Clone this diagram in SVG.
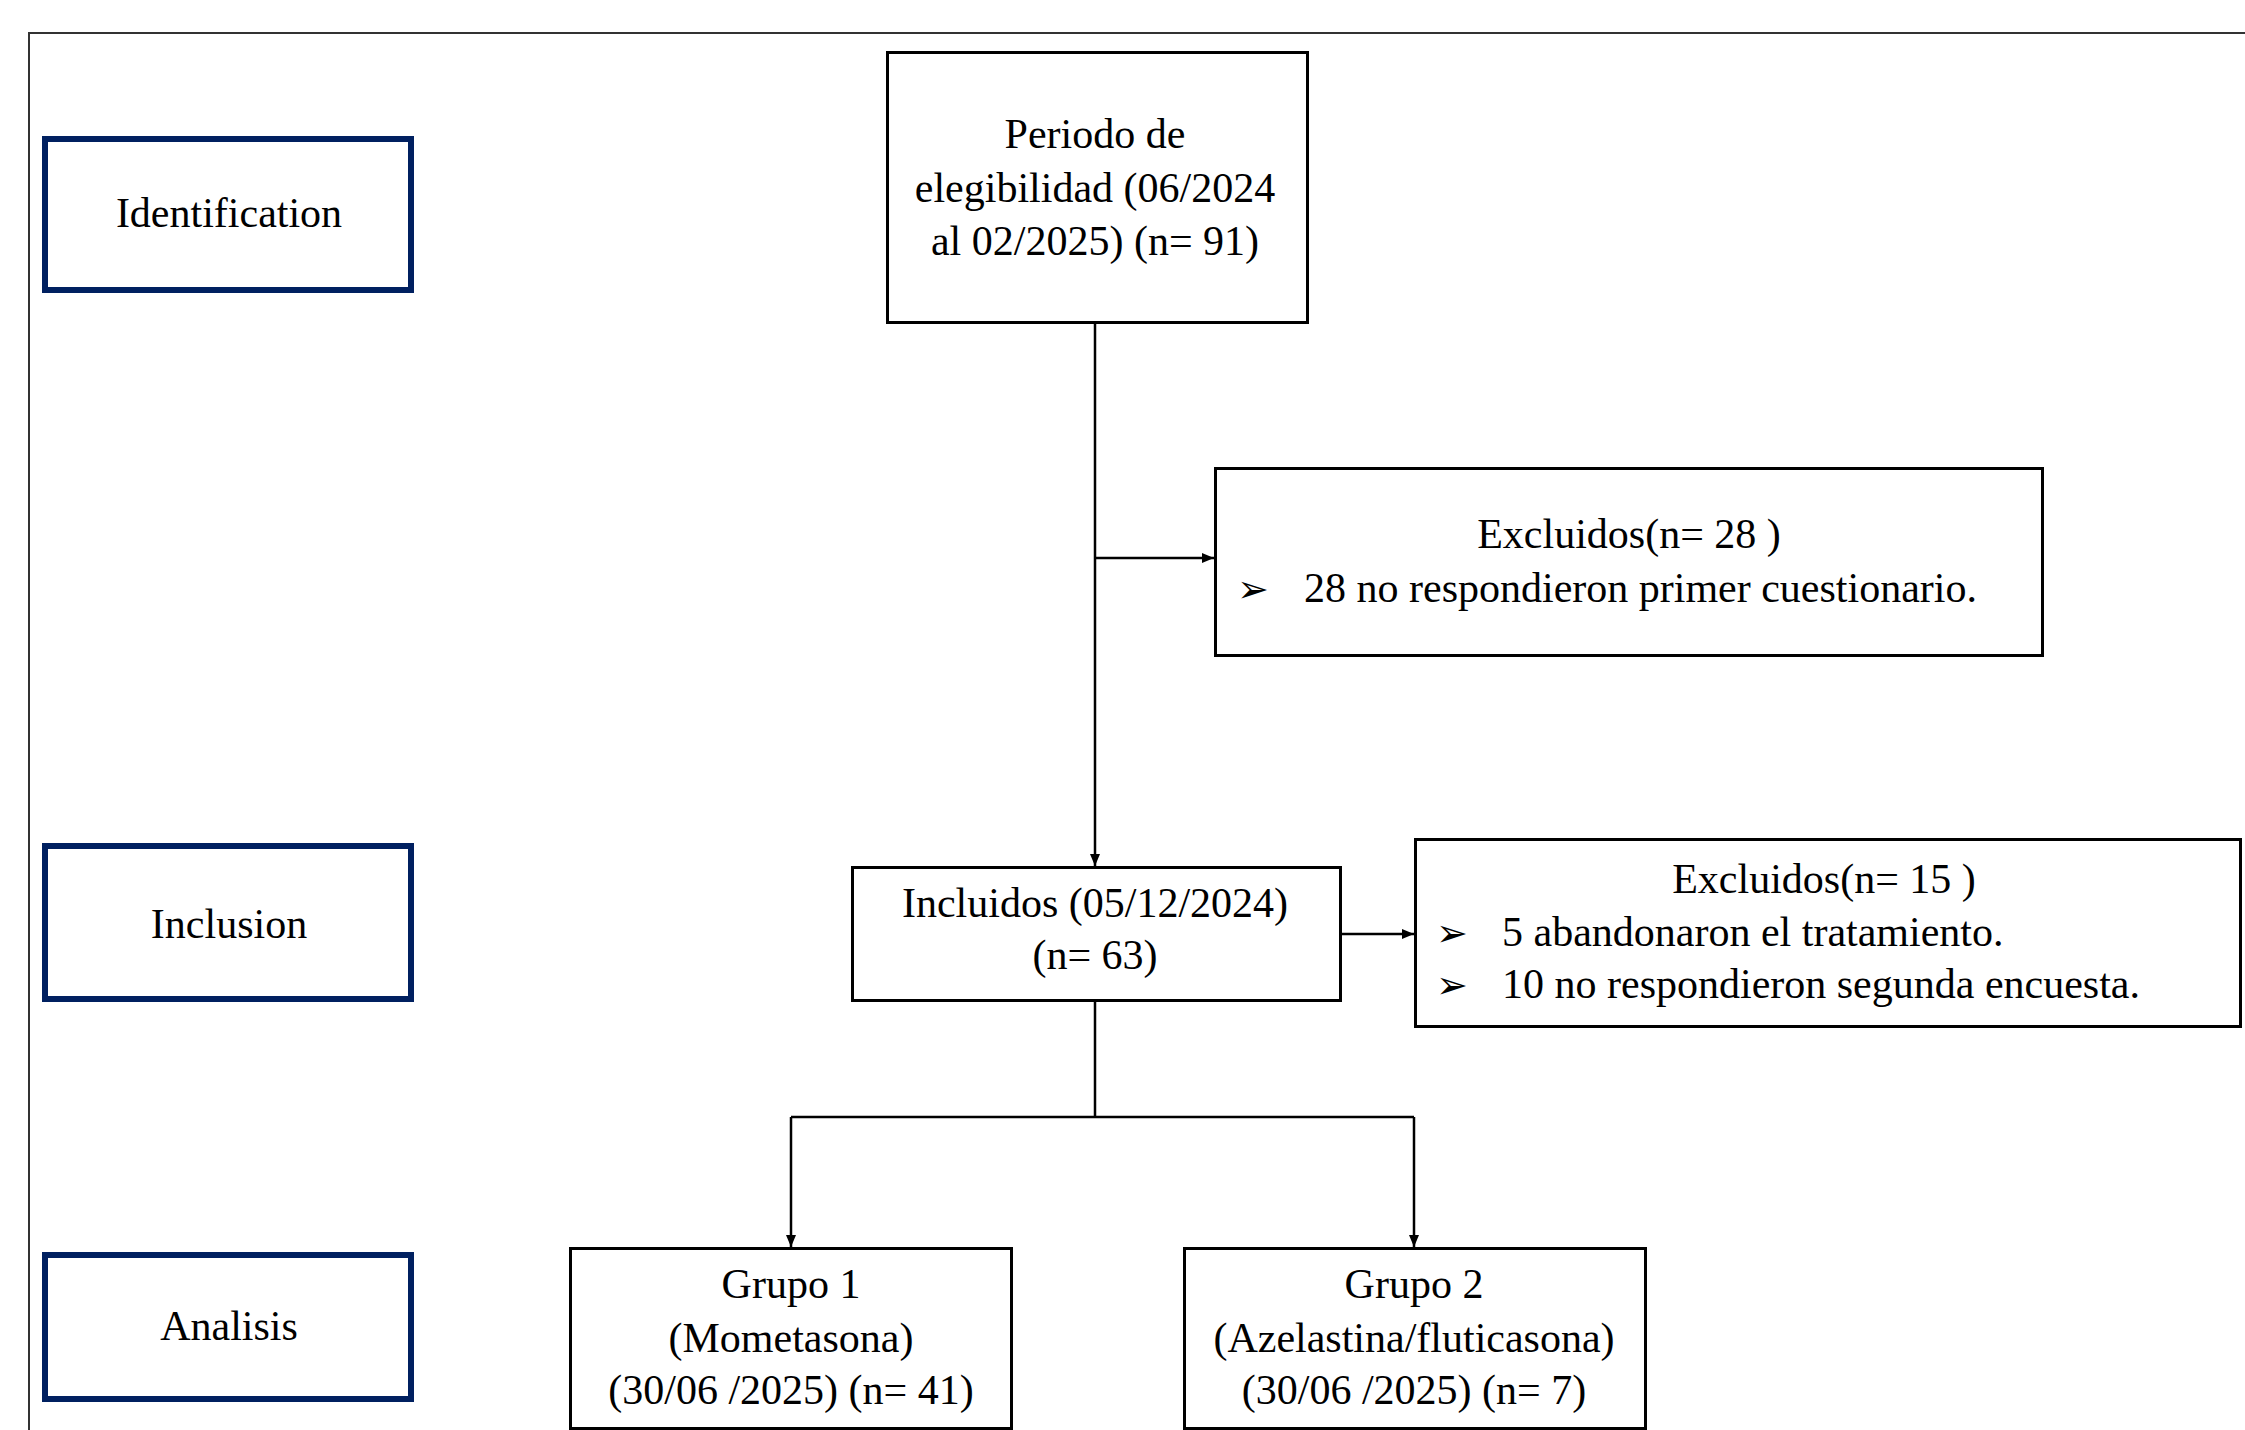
<svg xmlns="http://www.w3.org/2000/svg" width="2245" height="1430" viewBox="0 0 2245 1430">
<style>
.lbl{fill:#fff;stroke:#002060;stroke-width:6}
.box{fill:#fff;stroke:#000;stroke-width:3}
.t{font-family:"Liberation Serif","Times New Roman",serif;font-size:42px;fill:#000}
.c{text-anchor:middle}
.b{font-family:"DejaVu Sans",sans-serif;font-size:38px}
.con{fill:none;stroke:#000;stroke-width:2.5}
.frame{fill:none;stroke:#333;stroke-width:2}
</style>
<defs>
<marker id="ah" markerUnits="userSpaceOnUse" markerWidth="12" markerHeight="10" refX="12" refY="5" orient="auto">
<path d="M0,0 L12,5 L0,10 z" fill="#000"/>
</marker>
</defs>
<rect width="2245" height="1430" fill="#fff"/>
<path class="frame" d="M29,1430 V33 H2245"/>

<g id="identification">
<rect class="lbl" x="45" y="139" width="366" height="151"/>
<text class="t c" x="229" y="227">Identification</text>
</g>
<g id="inclusion">
<rect class="lbl" x="45" y="846" width="366" height="153"/>
<text class="t c" x="229" y="938">Inclusion</text>
</g>
<g id="analisis">
<rect class="lbl" x="45" y="1255" width="366" height="144"/>
<text class="t c" x="229" y="1340">Analisis</text>
</g>

<g id="periodo">
<rect class="box" x="887.5" y="52.5" width="420" height="270"/>
<text class="t c" x="1095" y="148">Periodo de</text>
<text class="t c" x="1095" y="202">elegibilidad (06/2024</text>
<text class="t c" x="1095" y="255">al 02/2025) (n= 91)</text>
</g>

<g id="excluidos1">
<rect class="box" x="1215.5" y="468.5" width="827" height="187"/>
<text class="t c" x="1629" y="548">Excluidos(n= 28 )</text>
<text class="t" x="1237" y="602"><tspan class="b">➢</tspan><tspan x="1304">28 no respondieron primer cuestionario.</tspan></text>
</g>

<g id="incluidos">
<rect class="box" x="852.5" y="867.5" width="488" height="133"/>
<text class="t c" x="1095" y="917">Incluidos (05/12/2024)</text>
<text class="t c" x="1095" y="969">(n= 63)</text>
</g>

<g id="excluidos2">
<rect class="box" x="1415.5" y="839.5" width="825" height="187"/>
<text class="t c" x="1824" y="893">Excluidos(n= 15 )</text>
<text class="t" x="1436" y="946"><tspan class="b">➢</tspan><tspan x="1502">5 abandonaron el tratamiento.</tspan></text>
<text class="t" x="1436" y="998"><tspan class="b">➢</tspan><tspan x="1502">10 no respondieron segunda encuesta.</tspan></text>
</g>

<g id="grupo1">
<rect class="box" x="570.5" y="1248.5" width="441" height="180"/>
<text class="t c" x="791" y="1298">Grupo 1</text>
<text class="t c" x="791" y="1352">(Mometasona)</text>
<text class="t c" x="791" y="1404">(30/06 /2025) (n= 41)</text>
</g>

<g id="grupo2">
<rect class="box" x="1184.5" y="1248.5" width="461" height="180"/>
<text class="t c" x="1414" y="1298">Grupo 2</text>
<text class="t c" x="1414" y="1352">(Azelastina/fluticasona)</text>
<text class="t c" x="1414" y="1404">(30/06 /2025) (n= 7)</text>
</g>

<g id="connectors">
<path class="con" d="M1095,324 V866" marker-end="url(#ah)"/>
<path class="con" d="M1095,558 H1214" marker-end="url(#ah)"/>
<path class="con" d="M1341,934 H1414" marker-end="url(#ah)"/>
<path class="con" d="M1095,1001 V1117 M791,1117 H1414"/>
<path class="con" d="M791,1117 V1247" marker-end="url(#ah)"/>
<path class="con" d="M1414,1117 V1247" marker-end="url(#ah)"/>
</g>
</svg>
